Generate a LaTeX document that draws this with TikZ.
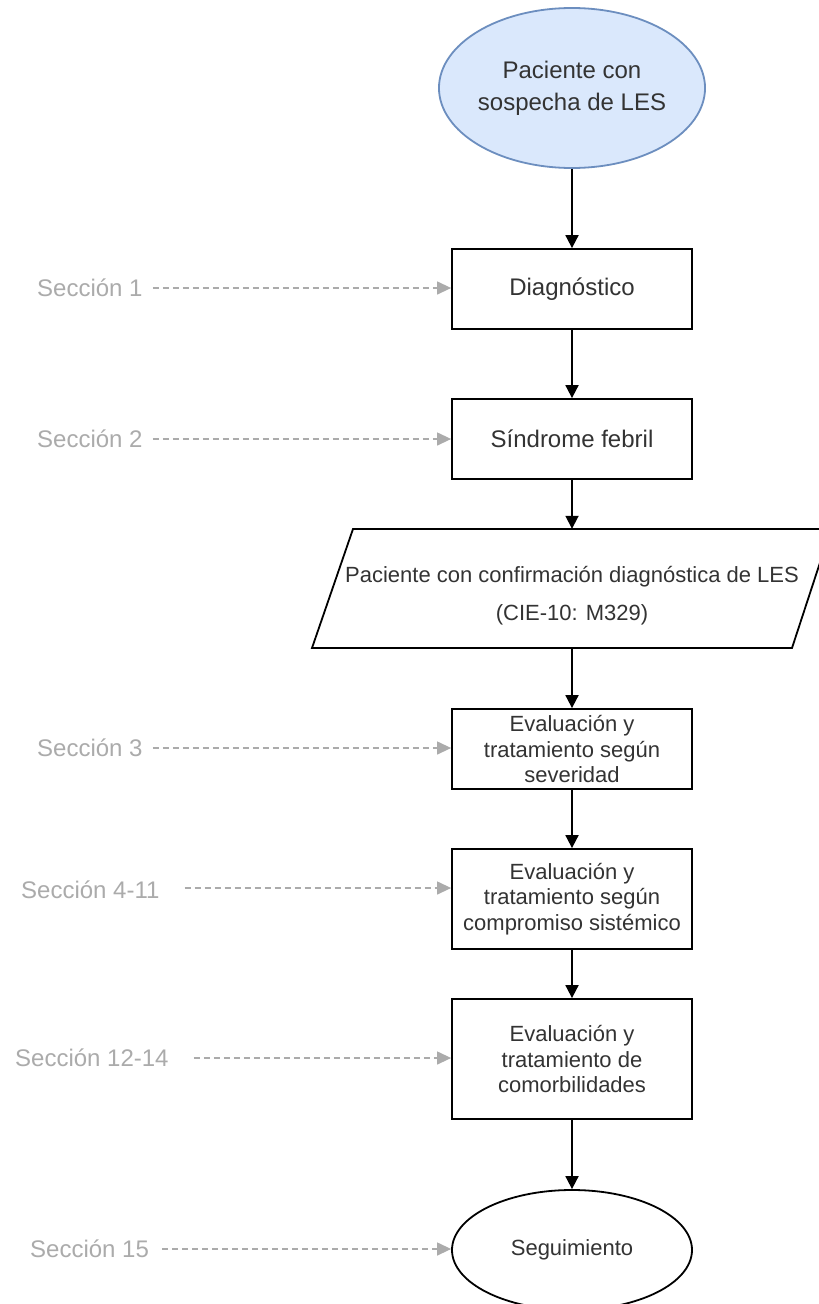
\documentclass[tikz,border=0pt]{standalone}
\usepackage{fontspec}
\setmainfont{Liberation Sans}
\usetikzlibrary{arrows.meta,shapes.geometric}

\definecolor{txtgray}{HTML}{333333}
\definecolor{secgray}{HTML}{ABABAB}
\definecolor{startfill}{HTML}{DAE8FC}
\definecolor{startdraw}{HTML}{6C8EBF}

\newcommand\fbig{\fontsize{24}{31.7}\selectfont}
\newcommand\fmid{\fontsize{22}{25.5}\selectfont}

\tikzset{
  box/.style={draw=black, line width=1.8pt, minimum width=240pt, inner sep=0pt,
              text=txtgray, align=center},
  oval/.style={ellipse, line width=1.8pt, minimum width=240pt, inner sep=0pt,
               text=txtgray, align=center},
  flow/.style={line width=1.8pt, -{Triangle[length=13pt,width=13pt]}},
  seclabel/.style={anchor=west, inner sep=0pt, text=secgray, font=\fbig},
  secarrow/.style={draw=secgray, line width=1.3pt, dash pattern=on 6pt off 4pt,
                   -{Triangle[length=14pt,width=13pt,fill=secgray]}},
}

\begin{document}
\begin{tikzpicture}[x=1pt,y=-1pt]
  \useasboundingbox[fill=white] (0,0) rectangle (819,1304);

  % main column
  \node[oval, draw=startdraw, fill=startfill, minimum height=160pt, font=\fbig]
    (start) at (572,88) {Paciente con\\sospecha de LES};
  \node[box, minimum height=80pt, font=\fbig] (diag) at (572,289) {Diagnóstico};
  \node[box, minimum height=80pt, font=\fbig] (sind) at (572,439) {Síndrome febril};

  % confirmed diagnosis (parallelogram)
  \node[minimum width=480pt, minimum height=119pt, inner sep=0pt] (conf) at (572,588.5) {};
  \draw[line width=1.8pt, line join=miter]
    (353,529) -- (831,529) -- (792,648) -- (312,648) -- cycle;
  \node[text=txtgray, align=center, font=\fontsize{22}{38}\selectfont, inner sep=0pt]
    (conftext) at ([yshift=-7.5pt]conf.center)
    {Paciente con confirmación diagnóstica de LES\\(CIE-10: M329)};

  \node[box, minimum height=80pt, font=\fmid] (sev) at (572,749)
    {Evaluación y\\tratamiento según\\severidad};
  \node[box, minimum height=100pt, font=\fmid] (sis) at (572,899)
    {Evaluación y\\tratamiento según\\compromiso sistémico};
  \node[box, minimum height=120pt, font=\fmid] (com) at (572,1059)
    {Evaluación y\\tratamiento de\\comorbilidades};
  \node[oval, draw=black, minimum height=120pt, font=\fmid] (seg) at (572,1250)
    {Seguimiento};

  \draw[flow] (start) -- (diag);
  \draw[flow] (diag) -- (sind);
  \draw[flow] (sind) -- (conf.north);
  \draw[flow] (conf.south) -- (sev);
  \draw[flow] (sev) -- (sis);
  \draw[flow] (sis) -- (com);
  \draw[flow] (com) -- (seg);

  % section references
  \node[seclabel] (s1)  at (37,288)  {Sección 1};
  \node[seclabel] (s2)  at (37,439)  {Sección 2};
  \node[seclabel] (s3)  at (37,748)  {Sección 3};
  \node[seclabel] (s4)  at (21,890)  {Sección 4-11};
  \node[seclabel] (s12) at (15,1058) {Sección 12-14};
  \node[seclabel] (s15) at (30,1249) {Sección 15};

  \draw[secarrow, shorten <=10pt] (s1.east)  -- (s1.east -| diag.west);
  \draw[secarrow, shorten <=10pt] (s2.east)  -- (s2.east -| sind.west);
  \draw[secarrow, shorten <=10pt] (s3.east)  -- (s3.east -| sev.west);
  \draw[secarrow, shorten <=25pt] ([yshift=2pt]s4.east) -- ([yshift=2pt]s4.east -| sis.west);
  \draw[secarrow, shorten <=25pt] (s12.east) -- (s12.east -| com.west);
  \draw[secarrow, shorten <=13pt] (s15.east) -- (s15.east -| seg.west);
\end{tikzpicture}
\end{document}
